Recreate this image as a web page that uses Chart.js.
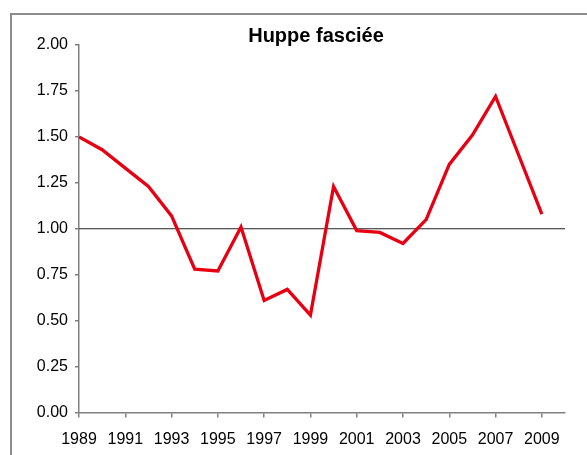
<!DOCTYPE html>
<html>
<head>
<meta charset="utf-8">
<script src="https://cdn.jsdelivr.net/npm/chart.js@4"></script>
<style>
  html, body { margin: 0; padding: 0; background: #fff; overflow: hidden; }
  #frame { position: absolute; left: 10px; top: 13px; width: 620px; height: 500px; border: 2px solid #8c8c8c; }
  #chart { position: absolute; left: 0; top: 0; }
</style>
</head>
<body>
<div id="frame"></div>
<canvas id="chart" width="587" height="455"></canvas>
<script>
const chartTitle = 'Huppe fasciée';
const years = [1989, 1990, 1991, 1992, 1993, 1994, 1995, 1996, 1997, 1998, 1999,
               2000, 2001, 2002, 2003, 2004, 2005, 2006, 2007, 2008, 2009];
const index = [1.50, 1.43, 1.33, 1.23, 1.07, 0.78, 0.77, 1.01, 0.61, 0.67, 0.53,
               1.23, 0.99, 0.98, 0.92, 1.05, 1.35, 1.51, 1.72, 1.40, 1.08];
const yearTicks = [1989, 1991, 1993, 1995, 1997, 1999, 2001, 2003, 2005, 2007, 2009];
const xRange = [1989, 2010];
const referenceLevel = 1.0;

const tickFont = { family: '"Liberation Sans", Arial, sans-serif', size: 16 };

// title drawn over the plot, Excel-style
const titlePlugin = {
  id: 'excelTitle',
  afterDraw(chart) {
    const ctx = chart.ctx;
    ctx.save();
    ctx.font = 'bold 20px "Liberation Sans", Arial, sans-serif';
    ctx.fillStyle = '#000';
    ctx.textAlign = 'center';
    ctx.textBaseline = 'middle';
    ctx.fillText(chartTitle, 316, 36);
    ctx.restore();
  }
};

new Chart(document.getElementById('chart'), {
  type: 'line',
  data: {
    datasets: [
      {
        label: chartTitle,
        data: years.map((y, i) => ({ x: y, y: index[i] })),
        borderColor: '#e60012',
        borderWidth: 3.3,
        pointRadius: 0,
        tension: 0,
        order: 1
      },
      {
        label: 'ref',
        data: xRange.map(x => ({ x, y: referenceLevel })),
        borderColor: '#222',
        borderWidth: 1,
        pointRadius: 0,
        order: 2
      }
    ]
  },
  options: {
    responsive: false,
    animation: false,
    devicePixelRatio: 1,
    layout: { padding: { top: 45, left: 14, right: 22, bottom: 0 } },
    plugins: { legend: { display: false }, title: { display: false }, tooltip: { enabled: false } },
    scales: {
      x: {
        type: 'linear',
        min: xRange[0],
        max: xRange[1],
        afterBuildTicks: s => { s.ticks = yearTicks.map(v => ({ value: v })); },
        afterFit: s => { s.height = 42.5; },
        grid: { drawOnChartArea: false, tickLength: 5, color: '#808080', lineWidth: 1.5 },
        border: { color: '#808080', width: 1.5 },
        ticks: { font: tickFont, color: '#000', padding: 12, autoSkip: false, maxRotation: 0,
                 callback: v => String(v) }
      },
      y: {
        min: 0,
        max: 2,
        afterFit: s => { s.width = 65; },
        grid: { drawOnChartArea: false, tickLength: 4, color: '#808080', lineWidth: 1.5 },
        border: { color: '#808080', width: 1.5 },
        ticks: { font: tickFont, color: '#000', padding: 7, stepSize: 0.25,
                 callback: v => v.toFixed(2) }
      }
    }
  },
  plugins: [titlePlugin]
});
</script>
</body>
</html>
